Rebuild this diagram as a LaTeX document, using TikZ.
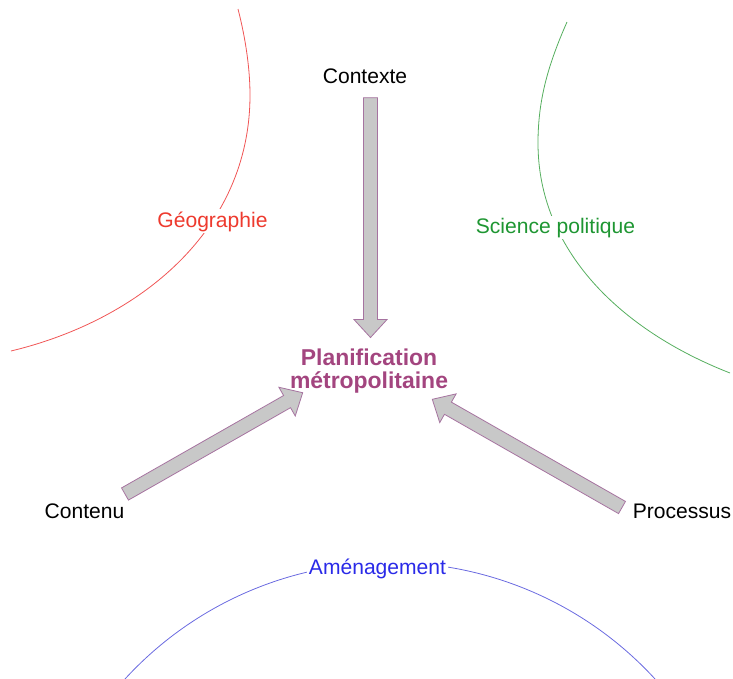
\documentclass[tikz,border=0pt]{standalone}
\usepackage{fontspec}
\setmainfont{Liberation Sans}
\usetikzlibrary{calc}
\definecolor{titlepurple}{HTML}{A3457F}
\definecolor{arrowedge}{HTML}{A673A0}
\definecolor{arrowfill}{HTML}{C8C8C8}
\definecolor{geored}{HTML}{EE3A2E}
\definecolor{geocurve}{HTML}{F05555}
\definecolor{polgreen}{HTML}{1E9632}
\definecolor{polcurve}{HTML}{55AE5E}
\definecolor{amblue}{HTML}{2A2AE8}
\definecolor{amcurve}{HTML}{6A6AE0}
\tikzset{
  term/.style={inner sep=1pt, font=\fontsize{15.8}{19}\selectfont},
  field/.style={fill=white, inner sep=1.5pt, font=\fontsize{15.8}{19}\selectfont},
  plantitle/.style={align=center, inner sep=1pt, text=titlepurple, font=\fontsize{17.2}{17.2}\selectfont\bfseries},
  fieldline/.style={line width=0.6pt},
  blockarrow/.style={draw=arrowedge, fill=arrowfill, line width=0.6pt, line join=miter}
}
\newcommand{\blockarrow}[2]{%
  \coordinate (#2base) at ($(#2)!13.5pt!(#1)$);
  \draw[blockarrow] ($(#1)!5.25pt!90:(#2)$) -- ($(#2base)!5.25pt!90:(#2)$)
    -- ($(#2base)!12.4pt!90:(#2)$) -- (#2) -- ($(#2base)!12.4pt!-90:(#2)$)
    -- ($(#2base)!5.25pt!-90:(#2)$) -- ($(#1)!5.25pt!-90:(#2)$) -- cycle;
}
\begin{document}
\begin{tikzpicture}[x=0.75pt, y=-0.75pt]
\useasboundingbox (0,0) rectangle (733,679);

\draw[fieldline, geocurve] (238,9) .. controls (246,40) and (250,70) .. (250,95)
  .. controls (250,230) and (140,320) .. (11,351);
\draw[fieldline, polcurve] (567,22) .. controls (548,65) and (538,100) .. (538,143)
  .. controls (538,250) and (620,330) .. (730,373);
\draw[fieldline, amcurve] (125,679) arc[start angle=137.5, end angle=42.5, radius=269.6pt];

\node[field, text=geored, anchor=base] (geo) at (212.5,227) {Géographie};
\node[field, text=polgreen, anchor=base] (pol) at (555.5,233) {Science politique};
\node[field, text=amblue, anchor=base] (amen) at (377.5,574) {Aménagement};

\node[term, anchor=base] (contexte) at (365,83.5) {Contexte};
\node[term, anchor=base] (contenu) at (84.5,518) {Contenu};
\node[term, anchor=base] (processus) at (682,518) {Processus};
\node[plantitle] (plan) at (369,371) {Planification\\métropolitaine};

\coordinate (ctxtail) at (370.5,97.7);
\coordinate (ctxtip) at (370.5,337.5);
\coordinate (cntail) at (125,494);
\coordinate (cntip) at (302.7,392.7);
\coordinate (prtail) at (622,507.5);
\coordinate (prtip) at (432.3,399.3);

\blockarrow{ctxtail}{ctxtip}
\blockarrow{cntail}{cntip}
\blockarrow{prtail}{prtip}
\end{tikzpicture}
\end{document}
